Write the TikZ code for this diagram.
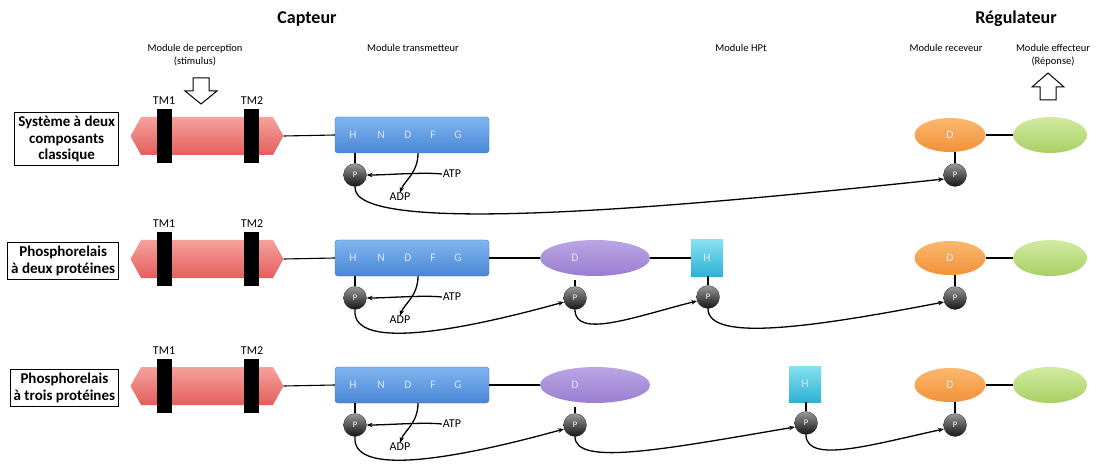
\documentclass[tikz,border=0pt]{standalone}
\usepackage{fontspec}
\setmainfont{Carlito}
\usetikzlibrary{shapes.geometric,shapes.symbols,arrows.meta,calc}
\definecolor{redA}{HTML}{E45E5B}
\definecolor{redB}{HTML}{F5A29E}
\definecolor{blueA}{HTML}{80B6F0}
\definecolor{blueB}{HTML}{4A86D6}
\definecolor{purpA}{HTML}{BBA5E4}
\definecolor{purpB}{HTML}{9A7ED0}
\definecolor{cyanA}{HTML}{86E0F0}
\definecolor{cyanB}{HTML}{2FB2D6}
\definecolor{orgA}{HTML}{FAB86E}
\definecolor{orgB}{HTML}{F2913A}
\definecolor{grnA}{HTML}{D2EAA2}
\definecolor{grnB}{HTML}{A8D064}
\definecolor{lettr}{HTML}{DDE8FA}
\begin{document}
\begin{tikzpicture}[x=1pt,y=-1pt,
  title/.style={font=\fontsize{18}{20}\selectfont\bfseries},
  mod/.style={font=\fontsize{10.5}{13.5}\selectfont, align=center},
  tmlab/.style={font=\fontsize{12}{13}\selectfont},
  small/.style={font=\fontsize{12}{13}\selectfont, inner sep=1pt},
  rowlab/.style={draw, line width=0.9pt, fill=white, align=center, anchor=east,
    font=\fontsize{15}{16.5}\selectfont\bfseries, inner sep=3.5pt},
  hexa/.style={signal, signal to=west and east, signal pointer angle=122,
    minimum width=153, minimum height=38, inner sep=0pt,
    top color=redB, bottom color=redA, draw=none},
  tmbar/.style={fill=black, minimum width=15, minimum height=54, inner sep=0pt},
  bluebox/.style={rectangle, rounded corners=3pt, minimum width=154, minimum height=36,
    inner sep=0pt, top color=blueA, bottom color=blueB, draw=blueB!85!black, line width=0.4pt},
  letter/.style={text=lettr, font=\fontsize{11.5}{12}\selectfont, inner sep=0pt},
  pball/.style={circle, minimum size=23, inner sep=0pt, top color=black!40, bottom color=black!92,
    draw=black!80, line width=0.3pt, text=white, font=\fontsize{8.5}{9}\selectfont},
  purpell/.style={ellipse, minimum width=110, minimum height=36, inner sep=0pt,
    top color=purpA, bottom color=purpB},
  cyansq/.style={rectangle, minimum width=32, minimum height=36, inner sep=0pt,
    top color=cyanA, bottom color=cyanB, text=lettr, font=\fontsize{11.5}{12}\selectfont},
  orgell/.style={ellipse, minimum width=71, minimum height=34, inner sep=0pt,
    top color=orgA, bottom color=orgB, text=lettr, font=\fontsize{11.5}{12}\selectfont},
  grnell/.style={ellipse, minimum width=74, minimum height=36, inner sep=0pt,
    top color=grnA, bottom color=grnB},
  link/.style={line width=1.1pt},
  conn/.style={line width=1.3pt, -{Stealth[length=6pt,width=4.5pt]}},
  blockarrow/.style={draw, line width=1pt, fill=white}
]
\useasboundingbox (0,0) rectangle (1103,465);

% headers
\node[title] (capteur) at (307,19) {Capteur};
\node[title] (regul) at (1016,19) {Régulateur};
\node[mod] (percep) at (195,55) {Module de perception\\(stimulus)};
\node[mod] (transm) at (413,48) {Module transmetteur};
\node[mod] (hpt) at (741,48) {Module HPt};
\node[mod] (recev) at (946,48) {Module receveur};
\node[mod] (effect) at (1053,55) {Module effecteur\\(Réponse)};

% block arrows
\draw[blockarrow] (193,78) -- (209,78) -- (209,91) -- (217,91) -- (201,104) -- (185,91) -- (193,91) -- cycle;
\draw[blockarrow] (1040,100) -- (1056,100) -- (1056,87) -- (1064,87) -- (1048,73) -- (1032,87) -- (1040,87) -- cycle;

% row labels
\node[rowlab] (lab1) at (119,139) {Système à deux\\composants\\classique};
\node[rowlab] (lab2) at (119,261) {Phosphorelais\\à deux protéines};
\node[rowlab] (lab3) at (119,388) {Phosphorelais\\à trois protéines};

% common parts of each row
\foreach \r/\yc in {1/135, 2/258, 3/385} {
  \node[hexa] (hex\r) at (207,\yc+1) {};
  \node[tmbar] (tma\r) at (164,\yc+1) {};
  \node[tmbar] (tmb\r) at (251,\yc+1) {};
  \node[tmlab] (tmla\r) at (164,\yc-34) {TM1};
  \node[tmlab] (tmlb\r) at (252,\yc-34) {TM2};
  \node[bluebox] (hk\r) at (412,\yc) {};
  \node[letter] (lh\r) at (353,\yc) {H};
  \node[letter] (ln\r) at (381,\yc) {N};
  \node[letter] (ld\r) at (408,\yc) {D};
  \node[letter] (lf\r) at (433,\yc) {F};
  \node[letter] (lg\r) at (458,\yc) {G};
  \draw[link] (hex\r.east) -- (hk\r.west);
  \node[pball] (pa\r) at (355,\yc+40) {P};
  \draw[link] (pa\r.north) -- (pa\r.north |- hk\r.south);
  \node[small] (atp\r) at (452,\yc+39) {ATP};
  \node[small] (adp\r) at (400,\yc+62) {ADP};
  \draw[conn] (atp\r.west) .. controls +(-18,-2) and +(20,0) .. (pa\r.east);
  \draw[conn] ([xshift=6pt]hk\r.south) .. controls +(0,20) and +(4,-12) .. ([yshift=-1pt]adp\r.north);
  \node[orgell] (ro\r) at (950,\yc) {D};
  \node[grnell] (ge\r) at (1050,\yc) {};
  \draw[link] (ro\r) -- (ge\r);
  \node[pball] (po\r) at (955,\yc+40) {P};
  \draw[link] (po\r.north) -- (po\r.north |- ro\r.south);
}

% purple ellipses (rows 2 and 3)
\foreach \r/\yc in {2/258, 3/385} {
  \node[purpell] (pu\r) at (595,\yc) {};
  \node[letter] (pd\r) at (575,\yc) {D};
  \draw[link] (hk\r.east) -- (pu\r.west);
  \node[pball] (pp\r) at (575,\yc+40) {P};
  \draw[link] (pp\r.north) -- ++(0,-6);
}

% cyan HPt boxes
\node[cyansq] (hc2) at (707,258) {H};
\node[cyansq] (hc3) at (805,384) {H};
\draw[link] (pu2.east) -- (hc2.west);
\node[pball] (pc2) at (708,297) {P};
\node[pball] (pc3) at (806,423) {P};
\draw[link] (pc2.north) -- (pc2.north |- hc2.south);
\draw[link] (pc3.north) -- (pc3.north |- hc3.south);

% phosphotransfer arrows
\draw[conn] (pa1.south) .. controls +(-4,48) and +(-300,32) .. (po1.200);
\draw[conn] (pa2.south) .. controls +(-4,44) and +(-90,25) .. (pp2.200);
\draw[conn] (pp2.south) .. controls +(0,30) and +(-60,15) .. (pc2.200);
\draw[conn] (pc2.south) .. controls +(0,34) and +(-130,25) .. (po2.200);
\draw[conn] (pa3.south) .. controls +(-4,44) and +(-90,25) .. (pp3.200);
\draw[conn] (pp3.south) .. controls +(0,30) and +(-130,22) .. (pc3.200);
\draw[conn] (pc3.south) .. controls +(0,30) and +(-70,15) .. (po3.200);
\end{tikzpicture}
\end{document}
